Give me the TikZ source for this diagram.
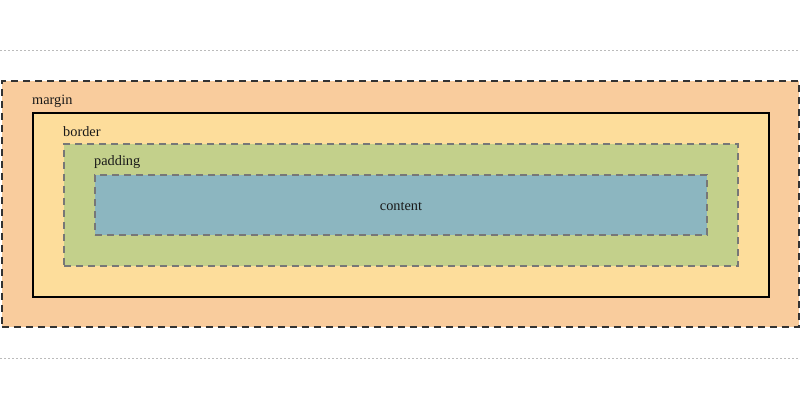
\documentclass[tikz,border=0pt]{standalone}
\usepackage{fontspec}
\setmainfont{Liberation Serif}
\definecolor{margincol}{HTML}{F9CC9D}
\definecolor{bordercol}{HTML}{FDDD9B}
\definecolor{paddingcol}{HTML}{C3D08B}
\definecolor{contentcol}{HTML}{8CB6C0}
\definecolor{darkdash}{HTML}{333333}
\definecolor{graydash}{HTML}{777777}
\definecolor{sepcol}{HTML}{BBBBBB}
\tikzset{
  layer/.style={rectangle, inner sep=0pt, outer sep=0pt, anchor=north west},
  lbl/.style={anchor=west, inner sep=0pt, font=\fontsize{14.3}{16}\selectfont, text=black!90},
  sep/.style={draw=sepcol, line width=1pt, dash pattern=on 2pt off 2pt},
}
\begin{document}
\begin{tikzpicture}[x=1pt,y=-1pt]
\useasboundingbox (0,0) rectangle (800,419);
\fill[white] (0,0) rectangle (800,419);
\coordinate (s1l) at (0,50.5);
\coordinate (s1r) at (800,50.5);
\coordinate (s2l) at (0,358.5);
\coordinate (s2r) at (800,358.5);
\draw[sep] (s1l) -- (s1r);
\draw[sep] (s2l) -- (s2r);
\node[layer, fill=margincol, draw=darkdash, line width=2pt, dash pattern=on 7pt off 5pt, minimum width=797pt, minimum height=246pt] (margin) at (1.5,81.5) {};
\node[layer, fill=bordercol, draw=black, line width=2pt, minimum width=736pt, minimum height=184pt] (border) at (33,113) {};
\node[layer, fill=paddingcol, draw=graydash, line width=2pt, dash pattern=on 7pt off 5pt, minimum width=674pt, minimum height=122pt] (padding) at (64,144) {};
\node[layer, fill=contentcol, draw=graydash, line width=2pt, dash pattern=on 7pt off 5pt, minimum width=612pt, minimum height=60pt] (content) at (95,175) {};
\node[lbl] (mlbl) at (32,101.5) {margin};
\node[lbl] (blbl) at (63,131.5) {border};
\node[lbl] (plbl) at (94,162.5) {padding};
\node[lbl, anchor=center] (clbl) at ([yshift=-1.5pt]content.center) {content};
\end{tikzpicture}
\end{document}
